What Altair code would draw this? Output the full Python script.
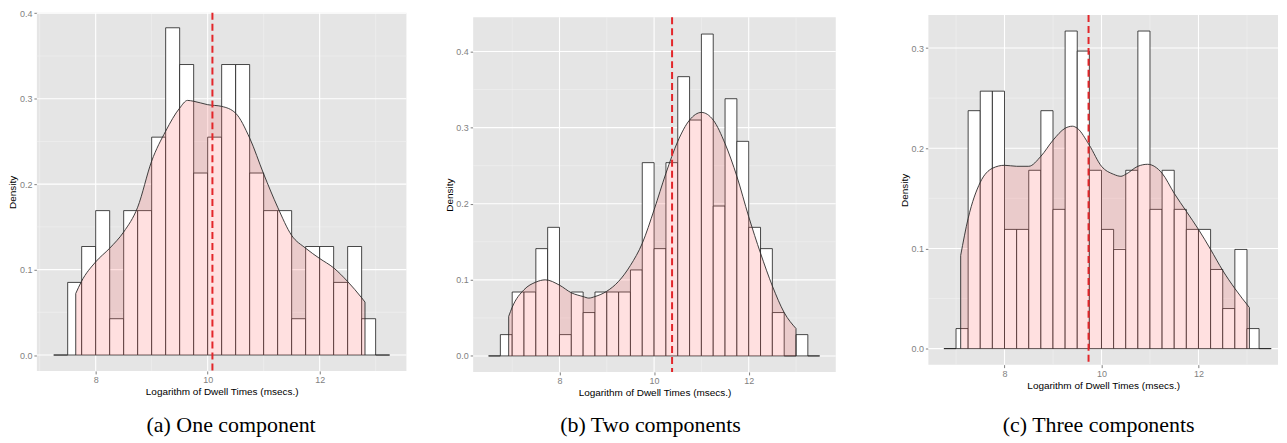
import altair as alt
import pandas as pd

BIN_W = 0.25
X_TITLE = "Logarithm of Dwell Times (msecs.)"

# ---------------- panel (a) one component ----------------
A_BIN_START = 7.25
A_HEIGHTS = [0, 0.085, 0.127, 0.169, 0.0425, 0.169, 0.169, 0.255, 0.383, 0.340, 0.213, 0.255,
             0.340, 0.340, 0.213, 0.169, 0.169, 0.0425, 0.127, 0.127, 0.085, 0.127, 0.0425, 0]
A_DENS_X = [7.644, 7.745, 8.0, 8.25, 8.5, 8.75, 9.0, 9.25, 9.5, 9.64, 9.75, 10.0, 10.25, 10.5,
            10.75, 11.0, 11.25, 11.5, 11.75, 12.0, 12.25, 12.5, 12.75, 12.81]
A_DENS_Y = [0.072, 0.086, 0.109, 0.125, 0.144, 0.173, 0.227, 0.262, 0.289, 0.298, 0.297, 0.293,
            0.291, 0.283, 0.254, 0.212, 0.173, 0.140, 0.125, 0.113, 0.102, 0.086, 0.067, 0.062]
A_MEAN = 10.085
A_XDOM = [6.95, 13.55]
A_YDOM = [-0.0186, 0.4005]
A_YTICKS = [0.0, 0.1, 0.2, 0.3, 0.4]
A_YMINOR = [0.05, 0.15, 0.25, 0.35]
A_CAPTION = "(a) One component"

# ---------------- panel (b) two components ----------------
B_BIN_START = 6.5
B_HEIGHTS = [0, 0.028, 0.084, 0.084, 0.141, 0.169, 0.028, 0.084, 0.057, 0.084, 0.084, 0.084,
             0.113, 0.254, 0.141, 0.254, 0.367, 0.310, 0.423, 0.197, 0.338, 0.282, 0.169, 0.141,
             0.057, 0, 0.028, 0]
B_DENS_X = [6.926, 7.0, 7.25, 7.5, 7.7, 8.0, 8.25, 8.5, 8.62, 8.75, 9.0, 9.25, 9.5, 9.75, 10.0,
            10.25, 10.5, 10.75, 11.0, 11.25, 11.5, 11.75, 12.0, 12.25, 12.5, 12.75, 13.0]
B_DENS_Y = [0.052, 0.064, 0.087, 0.097, 0.100, 0.093, 0.083, 0.078, 0.076, 0.078, 0.085, 0.098,
            0.119, 0.148, 0.192, 0.240, 0.282, 0.310, 0.320, 0.310, 0.279, 0.236, 0.183, 0.135,
            0.092, 0.057, 0.036]
B_MEAN = 10.38
B_XDOM = [6.175, 13.84]
B_YDOM = [-0.021, 0.445]
B_YTICKS = [0.0, 0.1, 0.2, 0.3, 0.4]
B_YMINOR = [0.05, 0.15, 0.25, 0.35]
B_CAPTION = "(b) Two components"

# ---------------- panel (c) three components ----------------
C_BIN_START = 6.75
C_HEIGHTS = [0, 0.020, 0.2375, 0.257, 0.257, 0.119, 0.119, 0.178, 0.2375, 0.139, 0.317, 0.297,
             0.178, 0.119, 0.099, 0.178, 0.317, 0.139, 0.178, 0.139, 0.119, 0.119, 0.079, 0.040,
             0.099, 0.020, 0]
C_DENS_X = [7.096, 7.25, 7.5, 7.75, 8.0, 8.25, 8.5, 8.75, 9.0, 9.25, 9.4, 9.5, 9.75, 10.0, 10.25,
            10.4, 10.5, 10.75, 10.95, 11.25, 11.5, 11.75, 12.0, 12.25, 12.5, 12.75, 13.05]
C_DENS_Y = [0.093, 0.130, 0.166, 0.180, 0.183, 0.182, 0.182, 0.192, 0.208, 0.220, 0.222, 0.220,
            0.203, 0.182, 0.174, 0.172, 0.174, 0.182, 0.184, 0.175, 0.155, 0.137, 0.119, 0.099,
            0.078, 0.060, 0.041]
C_MEAN = 9.733
C_XDOM = [6.43, 13.64]
C_YDOM = [-0.016, 0.333]
C_YTICKS = [0.0, 0.1, 0.2, 0.3]
C_YMINOR = [0.05, 0.15, 0.25]
C_CAPTION = "(c) Three components"

X_TICKS = [8, 10, 12]
X_MINOR = [7, 9, 11, 13]

GRID_BG = "#E5E5E5"
TICK_GREY = "#7F7F7F"
VIEW_H = 360.5  # common view height, each grey panel sits inside it


def panel(bin_start, heights, dens_x, dens_y, mean, xdom, ydom, yticks, yminor,
          caption, w, h, top_off, cap_x, cap_y):
    bottom = top_off + h
    xs = alt.Scale(domain=xdom, nice=False, zero=False)
    ys = alt.Scale(domain=ydom, nice=False, zero=False, range=[bottom, top_off])

    x_axis = alt.Axis(values=X_TICKS, title=X_TITLE, grid=False, domain=False,
                      tickColor=TICK_GREY, tickSize=3, labelColor=TICK_GREY, labelFontSize=9,
                      labelPadding=2, titleFontSize=10, titleFontWeight="normal",
                      titleColor="black", titlePadding=2, offset=bottom - VIEW_H)
    y_axis = alt.Axis(values=yticks, format=".1f", title="Density", grid=False, domain=False,
                      tickColor=TICK_GREY, tickSize=3, labelColor=TICK_GREY, labelFontSize=9,
                      labelPadding=2, titleFontSize=10, titleFontWeight="normal",
                      titleColor="black", titlePadding=1, minExtent=18, maxExtent=18)

    X = lambda: alt.X("x:Q", scale=xs, axis=x_axis)
    Y = lambda: alt.Y("y:Q", scale=ys, axis=y_axis)

    bars = pd.DataFrame({
        "x": [bin_start + i * BIN_W for i in range(len(heights))],
        "x2": [bin_start + (i + 1) * BIN_W for i in range(len(heights))],
        "y": heights,
        "y0": [0.0] * len(heights),
    })
    dens = pd.DataFrame({"x": dens_x, "y": dens_y, "y0": [0.0] * len(dens_x)})
    ends = dens.iloc[[0, -1]]

    bg = alt.Chart(pd.DataFrame({"k": [0]})).mark_rect(color=GRID_BG).encode(
        x=alt.value(0), x2=alt.value(w), y=alt.value(top_off), y2=alt.value(bottom))

    vgrid_minor = alt.Chart(pd.DataFrame({"x": X_MINOR})).mark_rule(
        color="#F2F2F2", strokeWidth=0.6).encode(x=X(), y=alt.value(top_off), y2=alt.value(bottom))
    hgrid_minor = alt.Chart(pd.DataFrame({"y": yminor})).mark_rule(
        color="#F2F2F2", strokeWidth=0.6).encode(y=Y(), x=alt.value(0), x2=alt.value(w))
    vgrid = alt.Chart(pd.DataFrame({"x": X_TICKS})).mark_rule(
        color="white", strokeWidth=1.1).encode(x=X(), y=alt.value(top_off), y2=alt.value(bottom))
    hgrid = alt.Chart(pd.DataFrame({"y": yticks})).mark_rule(
        color="white", strokeWidth=1.1).encode(y=Y(), x=alt.value(0), x2=alt.value(w))

    hist = alt.Chart(bars).mark_rect(fill="white", stroke="#1a1a1a", strokeWidth=0.8).encode(
        x=X(), x2="x2:Q", y=Y(), y2="y0:Q")

    area = alt.Chart(dens).mark_area(color="#FF6666", fillOpacity=0.2,
                                     interpolate="monotone").encode(x=X(), y=Y(), y2="y0:Q")
    line = alt.Chart(dens).mark_line(color="#2a2a2a", strokeWidth=0.9,
                                     interpolate="monotone").encode(x=X(), y=Y())
    edges = alt.Chart(ends).mark_rule(color="#2a2a2a", strokeWidth=0.9).encode(
        x=X(), y=Y(), y2="y0:Q")

    vline = alt.Chart(pd.DataFrame({"x": [mean]})).mark_rule(
        color="#E3262A", strokeWidth=2, strokeDash=[7, 4]).encode(
        x=X(), y=alt.value(top_off), y2=alt.value(bottom))

    cap = alt.Chart(pd.DataFrame({"t": [caption]})).mark_text(
        font="Liberation Serif", fontSize=22, align="center", baseline="alphabetic",
        color="black").encode(x=alt.value(cap_x), y=alt.value(cap_y), text="t:N")

    return alt.layer(bg, vgrid_minor, hgrid_minor, vgrid, hgrid, hist, area, line, edges,
                     vline, cap).properties(width=w, height=VIEW_H)


pa = panel(A_BIN_START, A_HEIGHTS, A_DENS_X, A_DENS_Y, A_MEAN, A_XDOM, A_YDOM, A_YTICKS,
           A_YMINOR, A_CAPTION, 371, 359.5, 0, 195, 420.5)
pb = panel(B_BIN_START, B_HEIGHTS, B_DENS_X, B_DENS_Y, B_MEAN, B_XDOM, B_YDOM, B_YTICKS,
           B_YMINOR, B_CAPTION, 364, 356, 4.5, 178, 420.5)
pc = panel(C_BIN_START, C_HEIGHTS, C_DENS_X, C_DENS_Y, C_MEAN, C_XDOM, C_YDOM, C_YTICKS,
           C_YMINOR, C_CAPTION, 351, 351, 2.2, 171, 420.5)

chart = alt.hconcat(alt.hconcat(pa, pb, spacing=37), pc, spacing=63).properties(
    padding={"left": 0, "right": 0, "top": 0, "bottom": 0}
).configure(
    font="Liberation Sans",
    view=alt.ViewConfig(fill=None, strokeWidth=0, stroke=None),
)

chart.save("out.html", embed_options={"renderer": "svg", "actions": False})
